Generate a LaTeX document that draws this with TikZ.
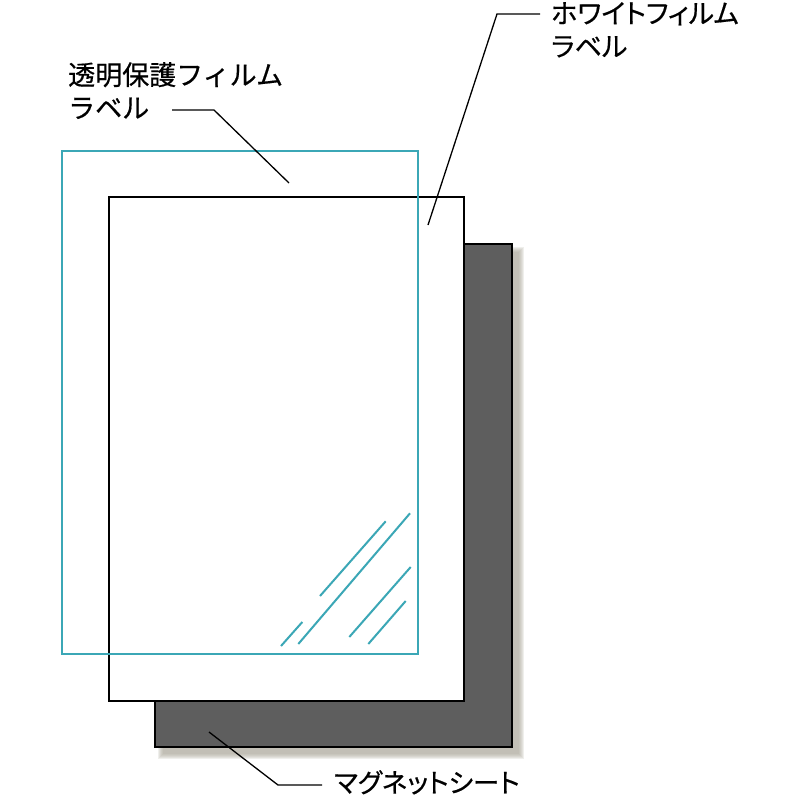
\documentclass[tikz,border=0pt]{standalone}
\usepackage{fontspec}
\newfontfamily\jp[RawFeature=+palt, FakeBold=0.5]{Noto Sans CJK JP}
\newfontfamily\jpw[FakeBold=0.5]{Noto Sans CJK JP}
\definecolor{sheetgray}{HTML}{5E5E5E}
\definecolor{filmcyan}{HTML}{3BA7B6}
\definecolor{shadowcol}{HTML}{A8A496}
\tikzset{
  sheet/.style={draw=black, line width=1.8pt, inner sep=0pt, anchor=north west},
  lead/.style={draw=black, line width=1.3pt},
  hatch/.style={draw=filmcyan, line width=2pt},
  lbl/.style={font=\jp\fontsize{27}{33}\selectfont, align=left, inner sep=0pt, anchor=north west, text=black}
}
\begin{document}
\begin{tikzpicture}[x=1pt,y=-1pt]
\useasboundingbox (0,0) rectangle (800,800);
% soft shadow of magnet sheet
\foreach \r in {5,4,3,2,1,0}{
  \fill[shadowcol, opacity=0.18] (154+9-\r,243+9-\r) rectangle (511+8+\r,746+8+\r);
}
\node[sheet, fill=sheetgray, minimum width=357pt, minimum height=503pt] (magnet) at (154,243) {};
\node[sheet, fill=white, minimum width=355pt, minimum height=504pt] (white) at (108,196) {};
\node[draw=filmcyan, line width=1.8pt, inner sep=0pt, anchor=north west, minimum width=356pt, minimum height=503pt] (clear) at (61,150) {};
% reflection hatch on clear film
\coordinate (h1a) at (320,596); \coordinate (h1b) at (385.7,521.3);
\coordinate (h2a) at (298.3,644); \coordinate (h2b) at (410,513.3);
\coordinate (h3a) at (281,646); \coordinate (h3b) at (302.3,622);
\coordinate (h4a) at (349.3,637); \coordinate (h4b) at (410.7,567);
\coordinate (h5a) at (368.3,644); \coordinate (h5b) at (405.7,601);
\draw[hatch] (h1a) -- (h1b);
\draw[hatch] (h2a) -- (h2b);
\draw[hatch] (h3a) -- (h3b);
\draw[hatch] (h4a) -- (h4b);
\draw[hatch] (h5a) -- (h5b);
% labels
\node[lbl, font=\jpw\fontsize{27}{33}\selectfont] (lclear) at (68,62) {透明保護フィルム\\ラベル};
\node[lbl] (lwhite) at (551,2) {ホワイトフィルム\\ラベル};
\node[lbl, font=\jp\fontsize{26.5}{33}\selectfont] (lmag) at (334,770) {マグネットシート};
% leaders
\coordinate (c1) at (172,110); \coordinate (c2) at (214,110); \coordinate (c3) at (289,183);
\coordinate (w1) at (540,14); \coordinate (w2) at (497,14); \coordinate (w3) at (428,225);
\coordinate (m1) at (209,732); \coordinate (m2) at (278,785); \coordinate (m3) at (322,785);
\draw[lead] (c1) -- (c2) -- (c3);
\draw[lead] (w1) -- (w2) -- (w3);
\draw[lead] (m1) -- (m2) -- (m3);
\end{tikzpicture}
\end{document}
